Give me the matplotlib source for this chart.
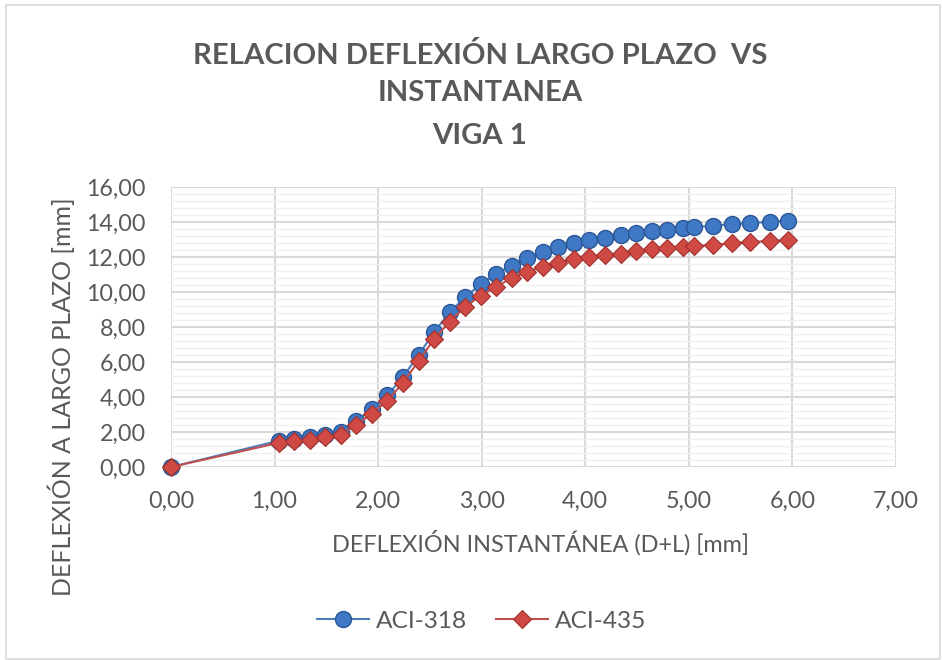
import matplotlib
matplotlib.use("Agg")
import matplotlib.pyplot as plt
import matplotlib.patches as patches
from matplotlib.ticker import MultipleLocator, FuncFormatter

# Deflexion instantanea (D+L) [mm]
x_inst = [0.00, 1.04, 1.19, 1.34, 1.49, 1.64, 1.79, 1.94, 2.09, 2.24, 2.39,
          2.54, 2.69, 2.84, 2.99, 3.14, 3.29, 3.44, 3.59, 3.74, 3.89, 4.04,
          4.19, 4.34, 4.49, 4.64, 4.79, 4.94, 5.05, 5.23, 5.42, 5.59, 5.78,
          5.96]

# Deflexion a largo plazo [mm]
aci_318 = [0.00, 1.50, 1.60, 1.70, 1.85, 2.00, 2.65, 3.30, 4.10, 5.15, 6.40,
           7.70, 8.85, 9.70, 10.45, 11.05, 11.50, 11.92, 12.30, 12.55, 12.78,
           12.97, 13.10, 13.26, 13.38, 13.48, 13.57, 13.64, 13.70, 13.79,
           13.88, 13.92, 14.02, 14.08]
aci_435 = [0.00, 1.38, 1.47, 1.57, 1.72, 1.85, 2.42, 3.05, 3.80, 4.82, 6.05,
           7.30, 8.30, 9.15, 9.80, 10.30, 10.80, 11.15, 11.45, 11.68, 11.87,
           11.98, 12.10, 12.20, 12.33, 12.43, 12.50, 12.55, 12.62, 12.69,
           12.78, 12.86, 12.91, 12.97]

TITLE = ['RELACION DEFLEXIÓN LARGO PLAZO  VS', 'INSTANTANEA', 'VIGA 1']
XLABEL = 'DEFLEXIÓN INSTANTÁNEA (D+L) [mm]'
YLABEL = 'DEFLEXIÓN A LARGO PLAZO [mm]'

TEXT = '#595959'
GRID = '#d9d9d9'
W, H = 942, 660

plt.rcParams['font.family'] = ['Lato', 'DejaVu Sans']

fig = plt.figure(figsize=(W / 100, H / 100), dpi=100)
renderer = fig.canvas.get_renderer()


def fit_size(s, target_px, along='w', **kw):
    """font size that gives the text the wanted pixel width"""
    t = fig.text(0, 0, s, fontsize=10, **kw)
    bb = t.get_window_extent(renderer)
    t.remove()
    return 10 * target_px / (bb.width if along == 'w' else bb.height)


def px(x, y):
    return x / W, 1 - y / H


ax = fig.add_axes([171 / W, 1 - 467 / H, (896 - 171) / W, (467 - 187) / H])

# chart border
fig.patches.append(patches.Rectangle((0.006, 0.002), 0.992, 0.99,
                                     transform=fig.transFigure, fill=False,
                                     edgecolor='#d9d9d9', linewidth=1.2))

ax.plot(x_inst, aci_318, color='#4a7ebb', linewidth=1.5, marker='o',
        markersize=11.5, markerfacecolor='#3f78c4', markeredgecolor='#2b5797',
        markeredgewidth=1.0, label='ACI-318', zorder=3, clip_on=False)
ax.plot(x_inst, aci_435, color='#c0504d', linewidth=1.5, marker='D',
        markersize=9.5, markerfacecolor='#d04a45', markeredgecolor='#9e2f2c',
        markeredgewidth=0.8, label='ACI-435', zorder=4, clip_on=False)

ax.set_xlim(0, 7)
ax.set_ylim(0, 16)
ax.xaxis.set_major_locator(MultipleLocator(1))
ax.yaxis.set_major_locator(MultipleLocator(2))
ax.yaxis.set_minor_locator(MultipleLocator(0.4))
fmt = FuncFormatter(lambda v, p: f'{v:.2f}'.replace('.', ','))
ax.xaxis.set_major_formatter(fmt)
ax.yaxis.set_major_formatter(fmt)

ax.grid(True, which='major', color=GRID, linewidth=1.5, zorder=0)
ax.grid(True, which='minor', axis='y', color='#f0f0f0', linewidth=1.0, zorder=0)
ax.set_axisbelow(True)
for s in ax.spines.values():
    s.set_visible(False)

tick_fs = fit_size('10,00', 59)
ax.tick_params(which='both', length=0, labelsize=tick_fs, labelcolor=TEXT)
ax.tick_params(axis='x', pad=17)
ax.tick_params(axis='y', pad=18)

# axis titles
xl_fs = fit_size(XLABEL, 414)
fig.text(*px(540, 552), XLABEL, fontsize=xl_fs, color=TEXT,
         ha='center', va='baseline')
yl_fs = fit_size(YLABEL, 397, along='h', rotation=90)
fig.text(*px(61, 397), YLABEL, rotation=90, fontsize=yl_fs, color=TEXT,
         ha='center', va='center')

# chart title
title_fs = fit_size(TITLE[0], 572, fontweight='bold')
for line, yc in zip(TITLE, [55, 93, 136]):
    fig.text(*px(480, yc), line, fontsize=title_fs, fontweight='bold',
             color=TEXT, ha='center', va='center')

leg_fs = fit_size('ACI-318', 91)
leg = fig.legend(loc='center', bbox_to_anchor=px(482, 621), ncol=2,
                 frameon=False, fontsize=leg_fs, handlelength=52 / (leg_fs * 1.389),
                 columnspacing=29 / (leg_fs * 1.389),
                 handletextpad=7 / (leg_fs * 1.389))
for t in leg.get_texts():
    t.set_color(TEXT)

fig.savefig('out.png', dpi=100, facecolor='white')
